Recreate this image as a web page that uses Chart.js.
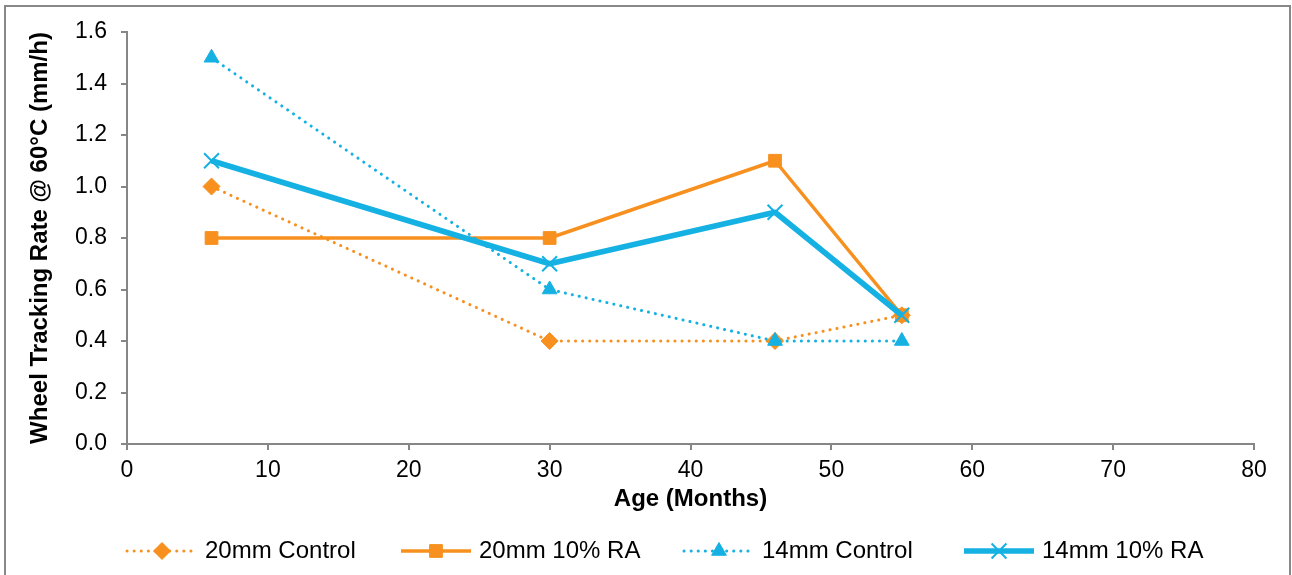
<!DOCTYPE html>
<html>
<head>
<meta charset="utf-8">
<script src="https://cdn.jsdelivr.net/npm/chart.js@4/dist/chart.umd.min.js"></script>
<style>
  html, body { margin: 0; padding: 0; background: #fff; }
  #wrap { position: relative; width: 1292px; height: 575px; }
</style>
</head>
<body>
<div id="wrap"><canvas id="chart" width="1292" height="575"></canvas></div>
<script>
// Wheel tracking rate at 60°C by age
const ages = [6, 30, 46, 55];
const control20 = [1.0, 0.4, 0.4, 0.5];
const ra20 = [0.8, 0.8, 1.1, 0.5];
const control14 = [1.5, 0.6, 0.4, 0.4];
const ra14 = [1.1, 0.7, 0.9, 0.5];
const seriesNames = ['20mm Control', '20mm 10% RA', '14mm Control', '14mm 10% RA'];

const ORANGE = '#F7901E';
const BLUE = '#15B1E3';
const AXIS = '#868686';
const FONT = '"Liberation Sans", Arial, sans-serif';

const toPoints = vals => ages.map((a, i) => ({ x: a, y: vals[i] }));

const styles = [
  { color: ORANGE, width: 3, dash: [0.1, 7], marker: 'rectRot', radius: 8.5, order: 3 },
  { color: ORANGE, width: 3.5, dash: [], marker: 'rect', radius: 9, order: 2 },
  { color: BLUE, width: 3, dash: [0.1, 7], marker: 'triangle', radius: 8.5, order: 1 },
  { color: BLUE, width: 5.5, dash: [], marker: 'crossRot', radius: 10.5, order: 0 }
];
const seriesData = [control20, ra20, control14, ra14];

const markerBorder = s => (s.marker === 'crossRot' ? 2 : 1);

const datasets = seriesData.map((vals, i) => {
  const s = styles[i];
  return {
    label: seriesNames[i],
    data: toPoints(vals),
    borderColor: s.color,
    backgroundColor: s.color,
    borderWidth: s.width,
    borderDash: s.dash,
    borderCapStyle: s.dash.length ? 'round' : 'butt',
    borderJoinStyle: 'round',
    pointStyle: s.marker,
    pointRadius: s.radius,
    pointHoverRadius: s.radius,
    pointBackgroundColor: s.color,
    pointBorderColor: s.color,
    pointBorderWidth: markerBorder(s),
    tension: 0,
    order: s.order
  };
});

// Outer frame around the figure
const framePlugin = {
  id: 'frame',
  beforeDraw(chart) {
    const ctx = chart.ctx;
    ctx.save();
    ctx.fillStyle = '#fff';
    ctx.fillRect(0, 0, chart.width, chart.height);
    ctx.strokeStyle = '#888888';
    ctx.lineWidth = 2;
    ctx.strokeRect(5, 6, 1285, 620);
    ctx.restore();
  }
};

// Legend row along the bottom: line sample with marker, then label
const legendPlugin = {
  id: 'bottomLegend',
  afterDraw(chart) {
    const ctx = chart.ctx;
    const starts = [127, 401, 684, 964];
    const lineLen = 70;
    const y = 551;
    ctx.save();
    chart.data.datasets.forEach((ds, i) => {
      const s = styles[i];
      const x0 = starts[i];
      ctx.strokeStyle = s.color;
      ctx.lineWidth = s.width;
      ctx.setLineDash(s.dash);
      ctx.lineCap = s.dash.length ? 'round' : 'butt';
      ctx.beginPath();
      ctx.moveTo(x0, y);
      ctx.lineTo(x0 + lineLen, y);
      ctx.stroke();
      ctx.setLineDash([]);
      ctx.lineCap = 'butt';
      ctx.fillStyle = s.color;
      ctx.strokeStyle = s.color;
      ctx.lineWidth = markerBorder(s);
      Chart.helpers.drawPoint(ctx, {
        pointStyle: s.marker,
        radius: s.radius,
        rotation: 0,
        borderWidth: markerBorder(s)
      }, x0 + lineLen / 2, y);
      ctx.fillStyle = '#000';
      ctx.font = '24px ' + FONT;
      ctx.textAlign = 'left';
      ctx.textBaseline = 'middle';
      ctx.fillText(ds.label, x0 + lineLen + 8, y);
    });
    ctx.restore();
  }
};

new Chart(document.getElementById('chart'), {
  type: 'line',
  data: { datasets },
  options: {
    responsive: false,
    animation: false,
    devicePixelRatio: 1,
    layout: { padding: { top: 32, right: 38, bottom: 61, left: 0 } },
    plugins: { legend: { display: false }, tooltip: { enabled: false } },
    scales: {
      x: {
        type: 'linear',
        min: 0,
        max: 80,
        ticks: { stepSize: 10, color: '#000', font: { family: FONT, size: 23 }, padding: 7, maxRotation: 0 },
        grid: { drawOnChartArea: false, drawTicks: true, tickLength: 6, color: AXIS, lineWidth: 2 },
        border: { display: true, color: AXIS, width: 2 },
        title: {
          display: true,
          text: 'Age (Months)',
          color: '#000',
          font: { family: FONT, size: 24, weight: 'bold' },
          padding: { top: 0, bottom: 0 }
        },
        afterFit(scale) { scale.height = 70; }
      },
      y: {
        min: 0,
        max: 1.6,
        ticks: {
          stepSize: 0.2,
          color: '#000',
          font: { family: FONT, size: 23 },
          padding: 14,
          callback: v => Number(v).toFixed(1)
        },
        grid: { drawOnChartArea: false, drawTicks: true, tickLength: 6, color: AXIS, lineWidth: 2 },
        border: { display: true, color: AXIS, width: 2 },
        title: {
          display: true,
          text: 'Wheel Tracking Rate @ 60°C (mm/h)',
          color: '#000',
          font: { family: FONT, size: 24, weight: 'bold' },
          padding: { top: 26, bottom: 0 }
        },
        afterFit(scale) { scale.width = 127; }
      }
    }
  },
  plugins: [framePlugin, legendPlugin]
});
</script>
</body>
</html>
